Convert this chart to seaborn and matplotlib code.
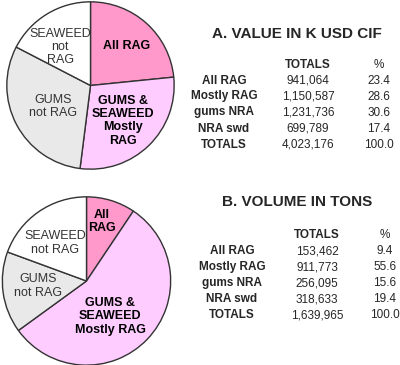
import matplotlib
matplotlib.use("Agg")
import matplotlib.pyplot as plt
import seaborn as sns

# data
segments = ["All RAG", "Mostly RAG", "gums NRA", "NRA swd"]
value_totals = [941064, 1150587, 1231736, 699789]
value_pct = [23.4, 28.6, 30.6, 17.4]
value_grand = 4023176
volume_totals = [153462, 911773, 256095, 318633]
volume_pct = [9.4, 55.6, 15.6, 19.4]
volume_grand = 1639965  # as printed in the source table

pie_labels_a = ["All RAG", "GUMS &\nSEAWEED\nMostly\nRAG", "GUMS\nnot RAG", "SEAWEED\nnot\nRAG"]
pie_labels_b = ["All\nRAG", "GUMS &\nSEAWEED\nMostly RAG", "GUMS\nnot RAG", "SEAWEED\nnot RAG"]

sns.set_style("white")
plt.rcParams["font.family"] = ["Liberation Sans", "DejaVu Sans"]

colors = ["#ff99cc", "#ffccff", "#e9e9e9", "#ffffff"]
bold = [True, True, False, False]
txt_colors = ["#000000", "#000000", "#333333", "#333333"]

W, H = 400, 365
fig = plt.figure(figsize=(4.0, 3.65), dpi=100)
fig.patch.set_facecolor("white")


def draw_pie(values, labels, cx, cy, r, label_pos):
    ax = fig.add_axes([(cx - r) / W, 1 - (cy + r) / H, 2 * r / W, 2 * r / H])
    ax.pie(values, colors=colors, startangle=90, counterclock=False,
           wedgeprops=dict(edgecolor="#333333", linewidth=1.0))
    ax.set_xlim(-1.01, 1.01)
    ax.set_ylim(-1.01, 1.01)
    ax.set_aspect("equal")
    for lab, (x, y), b, c in zip(labels, label_pos, bold, txt_colors):
        ax.text(x, y, lab, ha="center", va="center", fontsize=9,
                fontweight="bold" if b else "normal", color=c,
                linespacing=1.15)


draw_pie(value_pct, pie_labels_a, 90.5, 85.5, 84.5,
         [(0.43, 0.47), (0.39, -0.42), (-0.45, -0.25), (-0.36, 0.46)])
draw_pie(volume_pct, pie_labels_b, 86.5, 281, 85,
         [(0.18, 0.71), (0.28, -0.42), (-0.58, -0.06), (-0.37, 0.45)])

# tables on the right
tab = fig.add_axes([0, 0, 1, 1])
tab.set_xlim(0, W)
tab.set_ylim(H, 0)
tab.axis("off")


def draw_table(title, title_y, totals, pct, grand, x_lab, x_tot, x_pct, y0):
    tab.text(297, title_y, title, ha="center", va="center", fontsize=11,
             fontweight="bold")
    tab.text(x_tot, y0, "TOTALS", ha="center", va="center", fontsize=8.5,
             fontweight="bold")
    tab.text(x_pct, y0, "%", ha="center", va="center", fontsize=8.5)
    rows = list(zip(segments, totals, pct))
    rows.append(("TOTALS", grand, 100.0))
    step = 16
    for i, (name, t, p) in enumerate(rows):
        y = y0 + (i + 1) * step
        tab.text(x_lab, y, name, ha="center", va="center", fontsize=8.5,
                 fontweight="bold")
        tab.text(x_tot, y, f"{t:,}", ha="center", va="center", fontsize=8.5)
        tab.text(x_pct, y, f"{p:.1f}", ha="center", va="center", fontsize=8.5)


draw_table("A. VALUE IN K USD CIF", 34, value_totals, value_pct, value_grand,
           224, 308, 379, 64.5)
draw_table("B. VOLUME IN TONS", 202, volume_totals, volume_pct, volume_grand,
           232, 317, 385, 235)

fig.savefig("out.png", dpi=100, facecolor="white")
